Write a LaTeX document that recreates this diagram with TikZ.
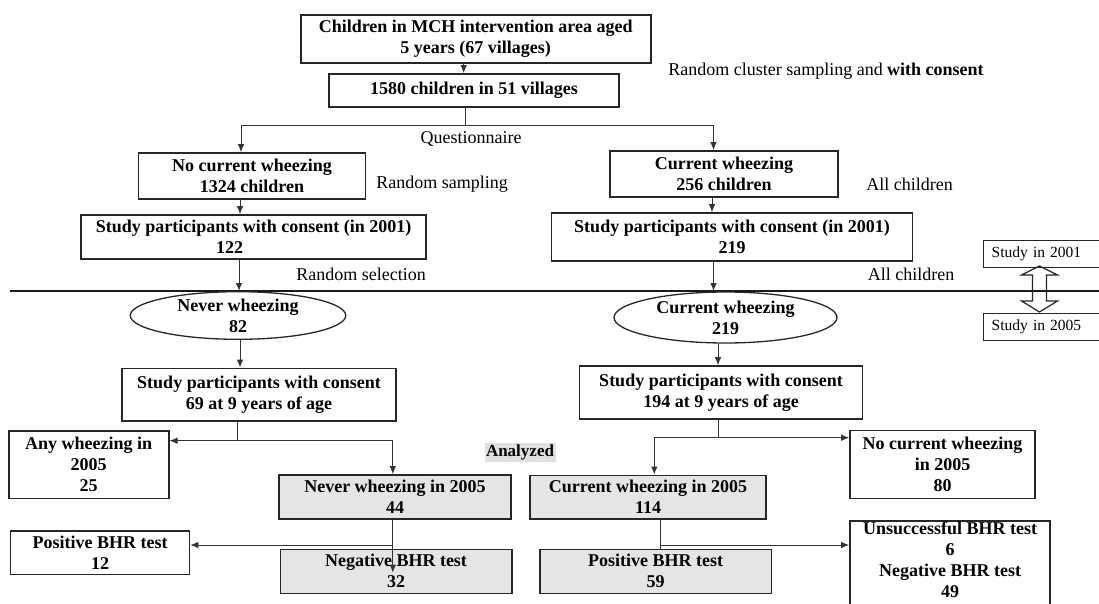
\documentclass[tikz,border=0pt]{standalone}
\usepackage{fontspec}
\setmainfont{Liberation Serif}
\usetikzlibrary{arrows.meta,shapes.geometric}

\tikzset{
	box/.style={draw=black!85, line width=1.6pt, fill=white, align=center, inner sep=0pt, font=\fontsize{18}{21}\selectfont\bfseries},
	greybox/.style={box, fill=black!10},
	oval/.style={ellipse, draw=black!85, line width=1.3pt, align=center, inner sep=0pt, font=\fontsize{18}{21}\selectfont\bfseries},
	note/.style={font=\fontsize{18}{21}\selectfont},
	studybox/.style={draw=black!85, line width=1.3pt, anchor=north west, text width=113pt, align=left, inner xsep=8pt, minimum height=27pt, font=\fontsize{15.5}{18}\selectfont},
	conn/.style={black!80, line width=1pt},
	arr/.style={conn, -{Latex[length=8pt,width=6.5pt]}}
}

\begin{document}
\begin{tikzpicture}[x=1pt,y=-1pt]

		\useasboundingbox (0,0) rectangle (1099,604);
		\clip (0,0) rectangle (1099,604);

		% study in 2001
		\node[box, minimum width=350pt, minimum height=48pt] (all) at (475.7,39) {Children in MCH intervention area aged\\5 years (67 villages)};
		\node[box, minimum width=290pt, minimum height=33pt] (sampled) at (474,90.5) {1580 children in 51 villages};
		\node[box, minimum width=227pt, minimum height=46pt] (nocur) at (252,176) {No current wheezing\\1324 children};
		\node[box, minimum width=345pt, minimum height=44pt] (partL) at (253.7,237) {Study participants with consent (in 2001)\\122\hspace*{48pt}};
		\node[box, minimum width=228pt, minimum height=46pt] (cur) at (724,174) {Current wheezing\\256 children};
		\node[box, minimum width=361pt, minimum height=48pt] (partR) at (732,237) {Study participants with consent (in 2001)\\219};

		% side labels
		\node[note] (lblcluster) at (826,71) {Random cluster sampling and \textbf{with consent}};
		\node[note] (lblquest) at (471,139) {Questionnaire};
		\node[note] (lblrandom) at (442,184) {Random sampling};
		\node[note] (lblselect) at (361,274) {Random selection};
		\node[note] (lblallA) at (909.5,184) {All children};
		\node[note] (lblallB) at (911,274) {All children};

		% separator
		\draw[line width=1.6pt, black!90] (10,291) -- (1099,291);
		\coordinate (sepL) at (239,291);
		\coordinate (sepR) at (713.5,291);

		% study boxes with double arrow
		\node[studybox] (s2001) at (983,240) {Study in 2001};
		\node[studybox] (s2005) at (983,313) {Study in 2005};
		\draw[line width=1.2pt, black!85] (1039.5,266) -- (1057.5,275) -- (1046.5,275) -- (1046.5,301)
					-- (1057.5,301) -- (1039.5,312) -- (1021.5,301) -- (1032.5,301)
					-- (1032.5,275) -- (1021.5,275) -- cycle;

		% study in 2005
		\node[oval, minimum width=215.5pt, minimum height=47pt] (never) at (238,315.5) {Never wheezing\\82};
		\node[oval, minimum width=223pt, minimum height=51pt] (current) at (725.5,317.5) {Current wheezing\\219};
		\node[box, minimum width=274.4pt, minimum height=52.7pt] (consL) at (259,394.7) {Study participants with consent\\69 at 9 years of age};
		\node[box, minimum width=283.3pt, minimum height=53pt] (consR) at (721,392.5) {Study participants with consent\\194 at 9 years of age};
		\node[box, minimum width=160pt, minimum height=67.6pt] (anyw) at (88.7,464.5) {Any wheezing in\\2005\\25};
		\node[box, minimum width=185pt, minimum height=68pt] (nocurw) at (942.5,464.3) {No current wheezing\\in 2005\\80};
		\node[greybox, minimum width=231.5pt, minimum height=44pt] (neverw) at (395,497) {Never wheezing in 2005\\44};
		\node[greybox, minimum width=235.7pt, minimum height=43.4pt] (curw) at (648,497) {Current wheezing in 2005\\114};
		\node[box, minimum width=179pt, minimum height=43.6pt] (posL) at (100,552.5) {Positive BHR test\\12};
		\node[greybox, minimum width=231.4pt, minimum height=44pt] (negL) at (396,571.3) {Negative BHR test\\32};
		\node[greybox, minimum width=231.3pt, minimum height=44pt] (posR) at (655.7,571.3) {Positive BHR test\\59};
		\node[box, minimum width=200pt, minimum height=92pt] (restR) at (950,566.7) {Unsuccessful BHR test\\6\\Negative BHR test\\49\\[-6pt]\mbox{}};
		\node[fill=black!12, inner sep=1.5pt, font=\fontsize{17}{20}\selectfont\bfseries] (analyzed) at (520,452.5) {Analyzed};

		%% Connectors %%
		\coordinate (split) at (465,126);
		\draw[arr] ([xshift=-12pt]all.south) -- ([xshift=-12pt]all.south |- sampled.north);
		\draw[conn] ([xshift=-9pt]sampled.south) -- (split);
		\draw[arr] (split) -| ([xshift=-11pt]nocur.north);
		\draw[arr] (split) -| ([xshift=-10.5pt]cur.north);
		\draw[arr] ([xshift=-12pt]nocur.south) -- ([xshift=-12pt]nocur.south |- partL.north);
		\draw[arr] ([xshift=-12pt]cur.south) -- ([xshift=-12pt]cur.south |- partR.north);
		\draw[arr] (sepL |- partL.south) -- (sepL);
		\draw[arr] (sepR |- partR.south) -- (sepR);

		% left branch
		\coordinate (splitL) at (237.8,440.7);
		\coordinate (splitNL) at (392.8,545);
		\coordinate (tipNL) at (392.8,572.7);
		\draw[arr] ([xshift=2pt]never.south) -- ([xshift=2pt]never.south |- consL.north);
		\draw[conn] (splitL |- consL.south) -- (splitL);
		\draw[arr] (splitL) -- (splitL -| anyw.east);
		\draw[arr] (splitL) -| ([xshift=-2.2pt]neverw.north);
		\draw[conn] (splitNL |- neverw.south) -- (splitNL);
		\draw[arr] (splitNL) -- (splitNL -| posL.east);
		\draw[arr] (splitNL) -- (tipNL);

		% right branch
		\coordinate (splitR) at (718,437.7);
		\coordinate (splitNR) at (660.3,545);
		\draw[arr] ([xshift=-7.5pt]current.south) -- ([xshift=-7.5pt]current.south |- consR.north);
		\draw[conn] (splitR |- consR.south) -- (splitR);
		\draw[arr] (splitR) -- (splitR -| nocurw.west);
		\draw[arr] (splitR) -| ([xshift=6.3pt]curw.north);
		\draw[conn] (splitNR |- curw.south) -- (splitNR |- posR.north);
		\draw[arr] (splitNR) -- (splitNR -| restR.west);

\end{tikzpicture}
\end{document}
